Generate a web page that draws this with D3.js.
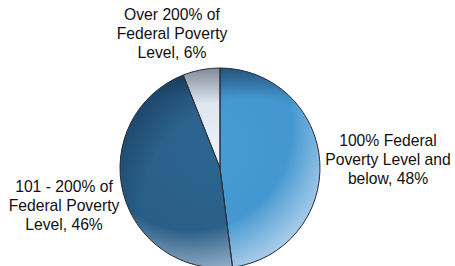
<!DOCTYPE html>
<html>
<head>
<meta charset="utf-8">
<script src="https://cdn.jsdelivr.net/npm/d3@7"></script>
<style>
  body { margin: 0; background: #fff; }
  text { font-family: "Liberation Sans", Arial, sans-serif; fill: #111; }
</style>
</head>
<body>
<div id="chart"></div>
<script>
// data
let categories = ["100% Federal Poverty Level and below", "101 - 200% of Federal Poverty Level", "Over 200% of Federal Poverty Level"];
let values = [48, 46, 6];
let labelLines = [
  ["100% Federal", "Poverty Level and", "below, 48%"],
  ["101 - 200% of", "Federal Poverty", "Level, 46%"],
  ["Over 200% of", "Federal Poverty", "Level, 6%"]
];

let svgWidth = 455;
let svgHeight = 266;
let cx = 220, cy = 168, radius = 100;

let svg = d3.select("#chart")
  .append("svg")
  .attr("width", svgWidth)
  .attr("height", svgHeight);

let defs = svg.append("defs");

// all gradients use the pie group's coords (centre at 0,0)
function radial(id, x, y, r, stops) {
  let g = defs.append("radialGradient").attr("id", id)
    .attr("gradientUnits", "userSpaceOnUse")
    .attr("cx", x).attr("cy", y).attr("r", r);
  stops.forEach(s => g.append("stop").attr("offset", s[0]).attr("stop-color", s[1]).attr("stop-opacity", s[2]));
}
function linear(id, y1, y2, stops) {
  let g = defs.append("linearGradient").attr("id", id)
    .attr("gradientUnits", "userSpaceOnUse")
    .attr("x1", 0).attr("y1", y1).attr("x2", 0).attr("y2", y2);
  stops.forEach(s => g.append("stop").attr("offset", s[0]).attr("stop-color", s[1]).attr("stop-opacity", s[2]));
}

radial("light", -10, -20, 150, [["0%", "#469cd6", 1], ["100%", "#4293cc", 1]]);
radial("dark", -10, -20, 150, [["0%", "#2d6590", 1], ["100%", "#275a82", 1]]);
linear("pale", -radius, 0, [["0%", "#7f8a9a", 1], ["35%", "#dde5ee", 1], ["100%", "#eef5fc", 1]]);

linear("topShade", -radius, radius, [["0%", "#0a1a33", 0.35], ["14%", "#0a1a33", 0]]);
radial("rim", -30, -40, 150, [["68%", "#ffffff", 0], ["100%", "#eef2ff", 0.6]]);
radial("darkRim", 30, 40, 150, [["72%", "#0a1a33", 0], ["100%", "#0a1a33", 0.35]]);

let fills = ["url(#light)", "url(#dark)", "url(#pale)"];

let pie = d3.pie().sort(null).value(d => d);
let arc = d3.arc().innerRadius(0).outerRadius(radius);
let arcs = pie(values);

let chartGroup = svg.append("g")
  .attr("transform", `translate(${cx}, ${cy})`);

chartGroup.selectAll("path.slice")
  .data(arcs)
  .enter()
  .append("path")
  .attr("class", "slice")
  .attr("d", arc)
  .attr("fill", (d, i) => fills[i]);

// shading overlays over the two blue slices only
["url(#topShade)", "url(#darkRim)", "url(#rim)"].forEach(function(f) {
  chartGroup.selectAll(null)
    .data(arcs.slice(0, 2))
    .enter()
    .append("path")
    .attr("d", arc)
    .attr("fill", f);
});

// outlines
chartGroup.selectAll("path.outline")
  .data(arcs)
  .enter()
  .append("path")
  .attr("class", "outline")
  .attr("d", arc)
  .attr("fill", "none")
  .attr("stroke", "#2a2f38")
  .attr("stroke-width", 1);

// labels
let labelPos = [[388, 146], [64, 192], [172, 20]];
let lineHeight = 19;

labelLines.forEach(function(lines, i) {
  let t = svg.append("text")
    .attr("text-anchor", "middle")
    .attr("font-size", 15.7);
  lines.forEach(function(line, j) {
    t.append("tspan")
      .attr("x", labelPos[i][0])
      .attr("y", labelPos[i][1] + j * lineHeight)
      .text(line);
  });
});
</script>
</body>
</html>
